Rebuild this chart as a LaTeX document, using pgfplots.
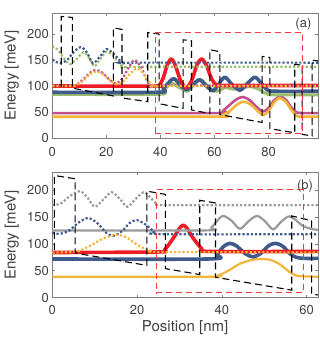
\documentclass[border=0pt]{standalone}
\usepackage{fontspec}
\setmainfont{TeX Gyre Heros}
\usepackage{pgfplots}
\pgfplotsset{compat=1.18}

\definecolor{cblue}{HTML}{3F5B8C}
\definecolor{cgreen}{HTML}{9CBD6E}
\definecolor{cred}{HTML}{EE1D25}
\definecolor{cmag}{HTML}{C0508E}
\definecolor{cyel}{HTML}{F2B53A}
\definecolor{cgray}{HTML}{9A9A9A}
\definecolor{axgray}{HTML}{808080}
\definecolor{txtgray}{HTML}{404040}
\definecolor{rdash}{HTML}{F03C3C}

\pgfplotsset{
  panel/.style={
    scale only axis, width=265.7pt,
    axis line style={draw=axgray, line width=0.8pt},
    tick style={draw=axgray, line width=0.6pt},
    tick align=inside, major tick length=3pt,
    xtick pos=both, ytick pos=both,
    ticklabel style={font=\fontsize{13}{15}\selectfont, text=txtgray},
    /pgf/number format/assume math mode=true,
    ymin=0, ytick={0,50,...,200},
    every axis y label/.style={at={(axis description cs:-0.152,0.5)}, rotate=90, anchor=center,
      font=\fontsize{15}{17}\selectfont, text=txtgray},
    every axis x label/.style={at={(axis description cs:0.5,-0.238)}, anchor=center,
      font=\fontsize{15}{17}\selectfont, text=txtgray},
  },
  sol/.style={line width=#1, line join=round, smooth},
  dot/.style={line width=2.2pt, dash pattern=on 2.2pt off 2pt, smooth},
  pot/.style={black, line width=1.1pt, dash pattern=on 7pt off 4pt},
  box/.style={rdash, line width=0.9pt, dash pattern=on 6pt off 4pt},
}

\begin{document}
\begin{tikzpicture}
\path[use as bounding box] (0,0) rectangle (320pt,339pt);

% ---------------- panel (a)
\begin{axis}[panel,
  at={(52.3pt,201pt)}, anchor=south west, height=124.7pt,
  xmin=0, xmax=98.3, ymax=240,
  xtick={0,20,...,80},
  xticklabel style={yshift=-6pt},
  ylabel={Energy [meV]},
]
\addplot[cmag, sol=2.6pt] coordinates {(0,48) (61,48) (63,52) (65.7,64) (68,74) (70.5,79) (73,73) (75.5,60) (78,51) (80,58) (82,72) (84.3,80) (86.5,73) (88.5,58) (90.5,49) (92,48) (98.3,48)};
\addplot[cyel, sol=2.6pt] coordinates {(0,41) (61,41) (63,44) (65.7,52) (68,63) (70.8,70) (73.5,64) (76,52) (78,44) (80,52) (82,68) (84,77) (86.3,70) (88.3,55) (90.3,43) (92,41) (98.3,41)};
\addplot[cgreen, sol=3pt] coordinates {(0,84) (39,84) (41,90) (44,105) (47,97) (50,90) (52.5,103) (55,112) (57.5,100) (60,90) (62,92) (64,97) (67,94) (70,96) (73,99) (76,95) (79,86) (82,83) (98.3,83)};
\addplot[cblue, sol=3.6pt] coordinates {(0,88) (39,88) (41,95) (44.7,114) (47,104) (49.6,93) (52,103) (54.5,112) (57,100) (59.5,91) (61.5,103) (63.8,117) (66.5,103) (69.4,92) (72,104) (75,117) (77.5,104) (79.5,93) (82,90) (98.3,90)};
\addplot[cred, sol=3.6pt] coordinates {(0,100) (38,100) (39.5,101) (41,115) (42.5,140) (44,152) (45.5,140) (47.5,110) (49.5,97) (51.5,110) (53.5,140) (55.2,152) (57,140) (59,113) (60.7,102) (62,101) (98.3,101)};
\addplot[cgreen, dot] coordinates {(0,177) (2,170) (4.5,152) (6.5,142) (9,152) (11.5,165) (13.5,155) (15.5,138) (17.5,150) (20,166) (22.5,158) (25,142) (27,136) (30,137) (98.3,137)};
\addplot[cblue, dot] coordinates {(0,151) (1.5,146) (3,144) (5.5,150) (8,166) (10.7,175) (13,163) (15,144) (17.5,156) (20,171) (22.5,163) (25,149) (27,144) (30,145) (98.3,145)};
\addplot[cmag, dot] coordinates {(0,101) (7,101) (9,103) (11.5,113) (14,126) (16,131) (18.5,126) (21,113) (23.5,105) (26,115) (28.5,138) (30.5,150) (33,135) (35,110) (36.5,98) (38,99) (40,101) (98.3,101)};
\addplot[cyel, dot] coordinates {(0,100) (7,100) (9,102) (11.5,110) (14,123) (16.5,128) (19,122) (21.5,110) (24,103) (26.5,110) (29,125) (31.5,134) (34,122) (36.5,104) (38.5,99) (40,100) (98.3,100)};
\addplot[pot] coordinates {(3.3,99) (3.3,234) (7.4,232) (7.4,96) (22.6,81) (22.6,212) (25.8,209) (25.8,77) (35.3,70) (35.3,203) (39.5,200) (39.5,66) (48.4,57) (48.4,189) (51.5,187) (51.5,54) (58.3,47) (58.3,170) (62,166) (62,45) (77.6,30) (77.6,157) (80.5,155) (80.5,18) (89.7,10) (89.7,142) (92.4,140) (92.4,7) (96.1,4) (96.1,150) (98.3,148)};
\addplot[box] coordinates {(38,9) (92.6,9) (92.6,203) (38,203) (38,9)};
\node[font=\fontsize{13}{15}\selectfont, text=txtgray] at (rel axis cs:0.945,0.914) {(a)};
\end{axis}

% ---------------- panel (b)
\begin{axis}[panel,
  at={(52.3pt,41.3pt)}, anchor=south west, height=125.4pt,
  xmin=0, xmax=62.7, ymax=233,
  xtick={0,20,...,60},
  xticklabel style={yshift=-4pt},
  xlabel={Position [nm]},
  ylabel={Energy [meV]},
]
\addplot[cyel, sol=2.2pt] coordinates {(0,39) (37,39) (39,41) (41.5,50) (44,62) (46.5,69) (49,72) (51.5,70) (53.5,63) (55.3,52) (57,43) (58.5,40) (62.7,39)};
\addplot[cblue, sol=3.6pt] coordinates {(0,72) (37,72) (38.8,80) (40.4,95) (41.9,101) (43.5,96) (45.5,82) (47.4,76) (49.3,83) (51.1,97) (52.8,101) (54.5,95) (56,82) (57.6,75) (59.5,73) (62.7,73)};
\addplot[cred, sol=3.6pt] coordinates {(0,84) (25,85) (26.5,89) (28.5,110) (30.9,135) (33.3,110) (35.3,91) (37,86) (62.7,86)};
\addplot[cgray, sol=2.2pt] coordinates {(0,125) (36,125) (37.5,130) (38.8,142) (40.3,152) (42.3,143) (44.3,128) (46.3,142) (48.3,152) (50.2,142) (52.1,127) (54,141) (55.8,151) (57.5,144) (59,134) (61,128) (62.7,126)};
\addplot[cgray, dot] coordinates {(0,172) (2,175) (4,188) (6.5,198) (8.3,186) (10,169) (12,182) (14,196) (16,183) (17.7,169) (19.5,182) (21.5,196) (23,187) (24.8,174) (27,172) (62.7,172)};
\addplot[cblue, dot] coordinates {(0,120) (2,119) (4,125) (6.3,140) (8.5,148) (10.7,138) (12.8,120) (14.5,115) (16.5,124) (18.3,139) (20,144) (22,136) (24,123) (26,118) (62.7,118)};
\addplot[cyel, dot] coordinates {(0,84) (5,85) (7,89) (9.5,99) (12,110) (15,117) (17.5,112) (19.5,101) (21.5,92) (23.5,87) (26,85) (62.7,84)};
\addplot[pot] coordinates {(0.5,89) (0.5,227) (5.4,221) (5.4,83) (22.3,60) (22.3,198) (26.7,192) (26.7,54) (34.8,43) (34.8,181) (38.5,176) (38.5,38) (56.5,14) (56.5,152) (61.2,143) (61.2,7) (62.7,5)};
\addplot[box] coordinates {(24.5,9) (59.2,9) (59.2,200.6) (24.5,200.6) (24.5,9)};
\node[font=\fontsize{13}{15}\selectfont, text=txtgray] at (rel axis cs:0.951,0.892) {(b)};
\end{axis}
\end{tikzpicture}
\end{document}
